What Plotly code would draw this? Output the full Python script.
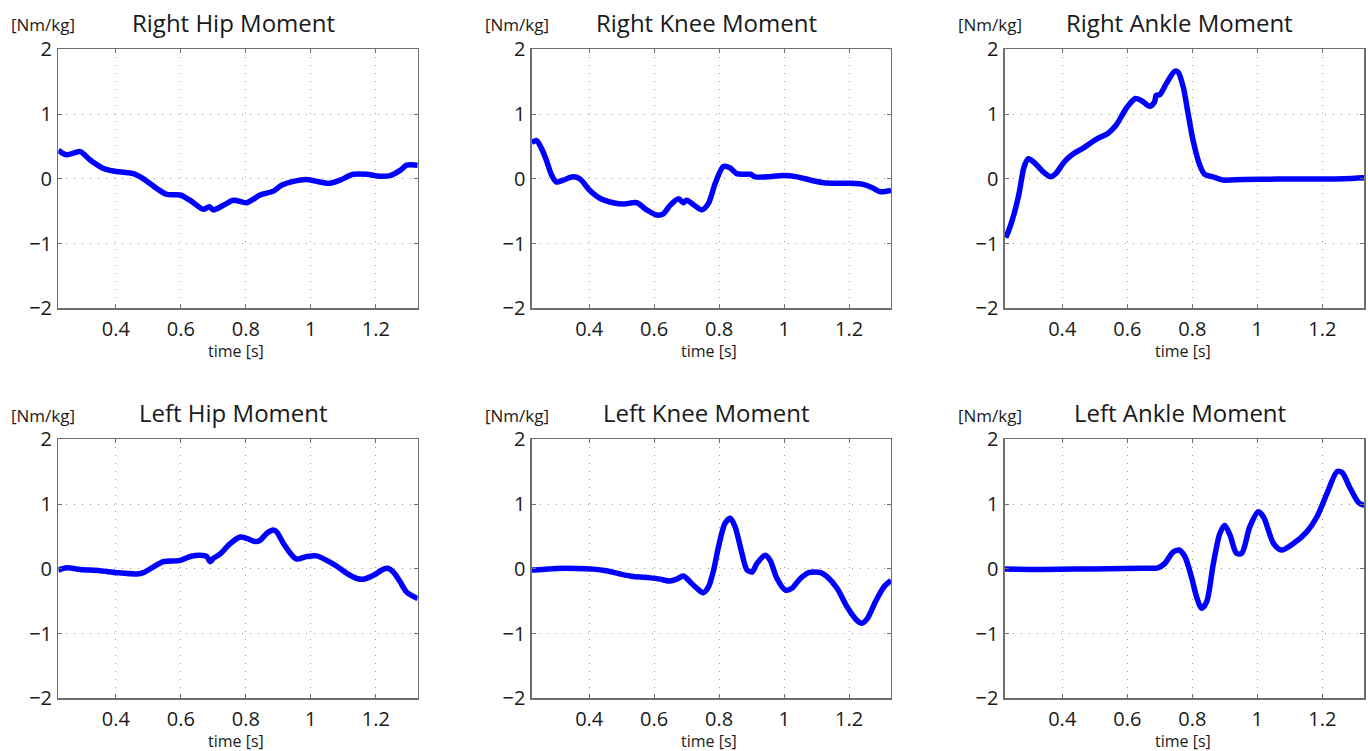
import plotly.graph_objects as go
from plotly.subplots import make_subplots

# ---------------- data ----------------
titles = ["Right Hip Moment", "Right Knee Moment", "Right Ankle Moment",
          "Left Hip Moment", "Left Knee Moment", "Left Ankle Moment"]

r_hip_t = [0.223, 0.249, 0.29, 0.321, 0.362, 0.393, 0.454, 0.485, 0.526, 0.557, 0.598, 0.628,
           0.669, 0.688, 0.70, 0.731, 0.762, 0.803, 0.844, 0.885, 0.91, 0.946, 0.988, 1.029,
           1.059, 1.09, 1.131, 1.172, 1.213, 1.244, 1.275, 1.295, 1.329]
r_hip_y = [0.44, 0.37, 0.42, 0.29, 0.16, 0.12, 0.08, 0.0, -0.15, -0.24, -0.25, -0.33,
           -0.47, -0.43, -0.48, -0.41, -0.33, -0.37, -0.25, -0.19, -0.1, -0.04, -0.01, -0.05,
           -0.07, -0.02, 0.07, 0.07, 0.04, 0.05, 0.13, 0.21, 0.21]

r_knee_t = [0.223, 0.238, 0.253, 0.268, 0.284, 0.299, 0.32, 0.351, 0.371, 0.402, 0.433, 0.474,
            0.505, 0.546, 0.577, 0.608, 0.628, 0.649, 0.675, 0.69, 0.70, 0.721, 0.747, 0.767,
            0.788, 0.813, 0.833, 0.854, 0.875, 0.896, 0.911, 0.947, 0.998, 1.04, 1.081, 1.122,
            1.163, 1.205, 1.246, 1.276, 1.296, 1.329]
r_knee_y = [0.56, 0.59, 0.47, 0.29, 0.06, -0.05, -0.02, 0.03, 0.0, -0.18, -0.30, -0.37,
            -0.39, -0.37, -0.48, -0.56, -0.54, -0.41, -0.31, -0.37, -0.33, -0.40, -0.48, -0.38,
            -0.07, 0.19, 0.17, 0.08, 0.07, 0.07, 0.03, 0.03, 0.05, 0.03, -0.02, -0.06,
            -0.07, -0.07, -0.09, -0.15, -0.2, -0.18]

r_ankle_t = [0.226, 0.236, 0.252, 0.267, 0.283, 0.296, 0.314, 0.339, 0.365, 0.38, 0.406, 0.432,
             0.463, 0.504, 0.54, 0.566, 0.597, 0.625, 0.643, 0.669, 0.684, 0.689, 0.70, 0.72,
             0.746, 0.756, 0.772, 0.787, 0.802, 0.823, 0.838, 0.864, 0.895, 0.957, 1.06,
             1.163, 1.266, 1.329]
r_ankle_y = [-0.91, -0.79, -0.54, -0.23, 0.19, 0.31, 0.25, 0.12, 0.03, 0.08, 0.26, 0.38,
             0.47, 0.61, 0.70, 0.83, 1.09, 1.24, 1.21, 1.12, 1.19, 1.29, 1.30, 1.47,
             1.66, 1.65, 1.42, 1.01, 0.60, 0.21, 0.07, 0.03, -0.02, -0.01, -0.005,
             -0.005, 0.0, 0.015]

l_hip_t = [0.223, 0.249, 0.29, 0.352, 0.403, 0.465, 0.485, 0.516, 0.546, 0.598, 0.629, 0.659,
           0.68, 0.69, 0.70, 0.721, 0.752, 0.783, 0.803, 0.829, 0.844, 0.865, 0.885, 0.895,
           0.916, 0.942, 0.957, 0.988, 1.018, 1.049, 1.08, 1.111, 1.142, 1.162, 1.193, 1.224,
           1.239, 1.254, 1.275, 1.295, 1.329]
l_hip_y = [-0.02, 0.015, -0.01, -0.03, -0.06, -0.08, -0.06, 0.03, 0.11, 0.13, 0.19, 0.21,
           0.19, 0.11, 0.16, 0.23, 0.39, 0.49, 0.47, 0.42, 0.44, 0.55, 0.60, 0.57,
           0.39, 0.21, 0.15, 0.19, 0.20, 0.13, 0.04, -0.07, -0.15, -0.16, -0.10, -0.005,
           0.005, -0.05, -0.20, -0.36, -0.46]

l_knee_t = [0.222, 0.258, 0.299, 0.361, 0.412, 0.453, 0.495, 0.536, 0.588, 0.618, 0.649, 0.669,
            0.69, 0.71, 0.731, 0.751, 0.767, 0.783, 0.798, 0.818, 0.834, 0.849, 0.87, 0.885,
            0.901, 0.916, 0.942, 0.957, 0.978, 1.004, 1.024, 1.05, 1.076, 1.112, 1.132, 1.163,
            1.194, 1.225, 1.24, 1.256, 1.281, 1.307, 1.329]
l_knee_y = [-0.02, -0.01, 0.005, 0.005, -0.005, -0.03, -0.08, -0.12, -0.14, -0.16, -0.19, -0.16,
            -0.11, -0.20, -0.30, -0.37, -0.28, -0.02, 0.34, 0.70, 0.78, 0.65, 0.24, -0.01,
            -0.05, 0.08, 0.21, 0.13, -0.15, -0.33, -0.30, -0.15, -0.06, -0.06, -0.12, -0.30,
            -0.59, -0.80, -0.84, -0.77, -0.51, -0.28, -0.18]

l_ankle_t = [0.221, 0.339, 0.442, 0.545, 0.648, 0.694, 0.715, 0.741, 0.759, 0.777, 0.797, 0.813,
             0.828, 0.844, 0.864, 0.885, 0.90, 0.916, 0.936, 0.952, 0.977, 1.003, 1.019, 1.05,
             1.075, 1.111, 1.152, 1.183, 1.214, 1.245, 1.26, 1.286, 1.312, 1.329]
l_ankle_y = [-0.005, -0.01, -0.005, 0.0, 0.01, 0.015, 0.08, 0.26, 0.29, 0.19, -0.12, -0.43,
             -0.61, -0.51, 0.06, 0.55, 0.67, 0.52, 0.24, 0.24, 0.65, 0.88, 0.80, 0.39,
             0.29, 0.39, 0.57, 0.80, 1.16, 1.50, 1.49, 1.24, 1.02, 0.98]

series = [(r_hip_t, r_hip_y), (r_knee_t, r_knee_y), (r_ankle_t, r_ankle_y),
          (l_hip_t, l_hip_y), (l_knee_t, l_knee_y), (l_ankle_t, l_ankle_y)]

x_ticks = [0.4, 0.6, 0.8, 1.0, 1.2]
x_tick_labels = ["0.4", "0.6", "0.8", "1", "1.2"]
y_ticks = [-2, -1, 0, 1, 2]
x_range = [0.223, 1.329]
y_range = [-2, 2]
y_unit = "[Nm/kg]"
x_label = "time [s]"

# ---------------- layout ----------------
W, H = 1368, 751
col_px = [(58.3, 417.7), (531.7, 891.0), (1004.7, 1364.3)]
row_px = [(49.3, 308.3), (439.3, 698.3)]

fig = make_subplots(rows=2, cols=3)
font_family = "Open Sans, Lato, sans-serif"
txt = "#1a1a1a"

for i, (t, y) in enumerate(series):
    r, c = divmod(i, 3)
    fig.add_trace(go.Scatter(x=t, y=y, mode="lines",
                             line=dict(color="#0000FF", width=5.5, shape="spline", smoothing=0.8),
                             showlegend=False, hoverinfo="skip"),
                  row=r + 1, col=c + 1)
    x0, x1 = col_px[c]
    y0, y1 = row_px[r]
    xd = [x0 / W, x1 / W]
    yd = [1 - y1 / H, 1 - y0 / H]
    axis_common = dict(showline=True, linecolor="#6e6e6e", linewidth=1.3, mirror="ticks",
                       ticks="inside", ticklen=4, tickcolor="#6e6e6e", tickwidth=1,
                       showgrid=True, gridcolor="#9a9a9a", griddash="1px,7px", gridwidth=1,
                       zeroline=False, automargin=False,
                       tickfont=dict(family=font_family, size=20, color=txt))
    fig.update_xaxes(domain=xd, range=x_range, tickvals=x_ticks, ticktext=x_tick_labels,
                     ticklabelstandoff=2, row=r + 1, col=c + 1, **axis_common)
    fig.update_yaxes(domain=yd, range=y_range, tickvals=y_ticks,
                     ticklabelstandoff=1, row=r + 1, col=c + 1, **axis_common)

    cx = (x0 + x1) / 2
    fig.add_annotation(text=titles[i], x=(cx - 5) / W, y=1 - (22 if r == 0 else 412) / H,
                       xref="paper", yref="paper", showarrow=False,
                       xanchor="center", yanchor="middle",
                       font=dict(family=font_family, size=24, color=txt))
    fig.add_annotation(text=y_unit, x=(x0 - 15) / W, y=1 - (25 if r == 0 else 416) / H,
                       xref="paper", yref="paper", showarrow=False,
                       xanchor="center", yanchor="middle",
                       font=dict(family=font_family, size=17, color=txt))
    fig.add_annotation(text=x_label, x=(cx - 2) / W, y=1 - (351 if r == 0 else 741) / H,
                       xref="paper", yref="paper", showarrow=False,
                       xanchor="center", yanchor="middle",
                       font=dict(family=font_family, size=16, color=txt))

fig.update_layout(width=W, height=H, margin=dict(l=0, r=0, t=0, b=0),
                  paper_bgcolor="white", plot_bgcolor="white")

# remove the default 8px page margin so the figure fills the window exactly
fig.write_html("out.html", config={"displayModeBar": False, "staticPlot": True},
               post_script="document.body.style.margin='0';document.body.style.overflow='hidden';")
